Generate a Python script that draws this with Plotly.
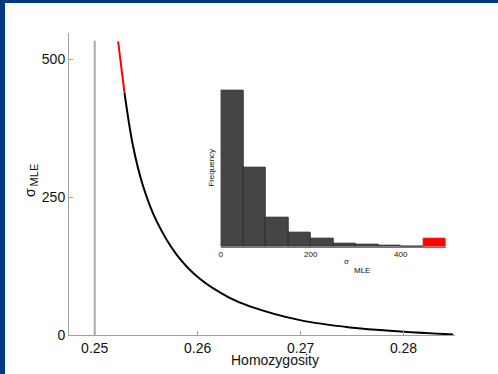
import plotly.graph_objects as go

# ---------------- data ----------------
homozygosity = [0.25227, 0.25289, 0.25373, 0.25470, 0.25600, 0.25795, 0.26021,
                0.26306, 0.26508, 0.26994, 0.27481, 0.27967, 0.28483]
sigma_mle = [533, 440, 342, 270, 207, 146, 102, 68, 52, 27, 13.8, 6.5, 1.0]
red_cutoff = 440  # curve drawn red above this sigma

vline_x = 0.25
vline_top = 534

hist_bin_left = [0, 50, 100, 150, 200, 250, 300, 350, 400]
hist_counts = [468, 238, 88, 42, 23, 8, 6, 2, 1]
hist_red_bin = [450]
hist_red_count = [23]
bin_width = 50

x_ticks = [0.25, 0.26, 0.27, 0.28]
x_tick_text = ["0.25", "0.26", "0.27", "0.28"]
y_ticks = [0, 250, 500]
y_tick_text = ["0", "250", "500"]
inset_ticks = [0, 200, 400]

# ---------------- layout helpers ----------------
W, H = 498, 374
L, R, T, B = 69, 455, 33, 335
def px2x(px):
    return (px - L) / (R - L)
def py2y(py):
    return (B - py) / (B - T)

FONT = "Arial, Liberation Sans, sans-serif"
BLUE = "#003884"
AXIS = "#a0a0a0"

red_h = [h for h, s in zip(homozygosity, sigma_mle) if s >= red_cutoff]
red_s = [s for s in sigma_mle if s >= red_cutoff]
blk_h = [h for h, s in zip(homozygosity, sigma_mle) if s <= red_cutoff]
blk_s = [s for s in sigma_mle if s <= red_cutoff]

fig = go.Figure()
fig.add_trace(go.Scatter(x=[vline_x, vline_x], y=[0, vline_top], mode="lines",
                         line=dict(color="#aaaaaa", width=2), showlegend=False,
                         hoverinfo="skip"))
fig.add_trace(go.Scatter(x=blk_h, y=blk_s, mode="lines",
                         line=dict(color="black", width=2, shape="spline", smoothing=1.0),
                         showlegend=False))
fig.add_trace(go.Scatter(x=red_h, y=red_s, mode="lines",
                         line=dict(color="red", width=2), showlegend=False))

# inset histogram
fig.add_trace(go.Bar(x=[b + bin_width / 2 for b in hist_bin_left], y=hist_counts,
                     width=bin_width, marker=dict(color="#454545",
                     line=dict(color="#2e2e2e", width=1)),
                     xaxis="x2", yaxis="y2", showlegend=False))
fig.add_trace(go.Bar(x=[b + bin_width / 2 for b in hist_red_bin], y=hist_red_count,
                     width=bin_width, marker=dict(color="#ff0000",
                     line=dict(color="#ff0000", width=1)),
                     xaxis="x2", yaxis="y2", showlegend=False))

fig.update_layout(
    width=W, height=H,
    margin=dict(l=L, r=W - R, t=T, b=H - B, pad=0),
    paper_bgcolor="white", plot_bgcolor="rgba(0,0,0,0)",
    font=dict(family=FONT, color="#111111", size=14),
    bargap=0,
    xaxis=dict(range=[0.2475, 0.285], tickvals=x_ticks, ticktext=x_tick_text,
               showgrid=False, zeroline=False, showline=True, linecolor=AXIS,
               linewidth=1, ticks="inside", ticklen=4, tickcolor=AXIS,
               tickfont=dict(size=14, color="#111111")),
    yaxis=dict(range=[0, 548], tickvals=y_ticks, ticktext=y_tick_text,
               showgrid=False, zeroline=False, showline=True, linecolor=AXIS,
               linewidth=1, ticks="inside", ticklen=4, tickcolor=AXIS,
               tickfont=dict(size=14, color="#111111")),
    xaxis2=dict(domain=[px2x(220.7), px2x(445.7)], range=[0, 500], anchor="y2",
                tickvals=inset_ticks, showgrid=False, zeroline=False,
                showline=True, linecolor="#777777", linewidth=1, ticks="",
                tickfont=dict(size=8, color="#111111")),
    yaxis2=dict(domain=[py2y(246.7), py2y(86.7)], range=[0, 480], anchor="x2",
                showticklabels=False, showgrid=False, zeroline=False,
                showline=False, ticks=""),
    shapes=[
        dict(type="rect", xref="paper", yref="paper", x0=px2x(0), x1=px2x(W),
             y0=py2y(0), y1=py2y(3), fillcolor=BLUE, line=dict(width=0), layer="above"),
        dict(type="rect", xref="paper", yref="paper", x0=px2x(0), x1=px2x(5),
             y0=py2y(0), y1=py2y(H), fillcolor=BLUE, line=dict(width=0), layer="above"),
    ],
)

def ann(text, px, py, size, angle=0):
    fig.add_annotation(text=text, x=px2x(px), y=py2y(py), xref="paper", yref="paper",
                       showarrow=False, textangle=angle, xanchor="center",
                       yanchor="middle", font=dict(size=size, family=FONT, color="#111111"))

ann("Homozygosity", 275, 360, 14)
ann("σ", 30, 193, 14, -90)
ann("MLE", 33.7, 174.7, 11, -90)
ann("Frequency", 211.7, 168, 8, -90)
ann("σ", 346.7, 261.7, 8)
ann("MLE", 361.7, 270, 8)

fig.write_html("out.html", config={"displayModeBar": False},
               post_script="document.body.style.margin='0';document.body.style.overflow='hidden';")
